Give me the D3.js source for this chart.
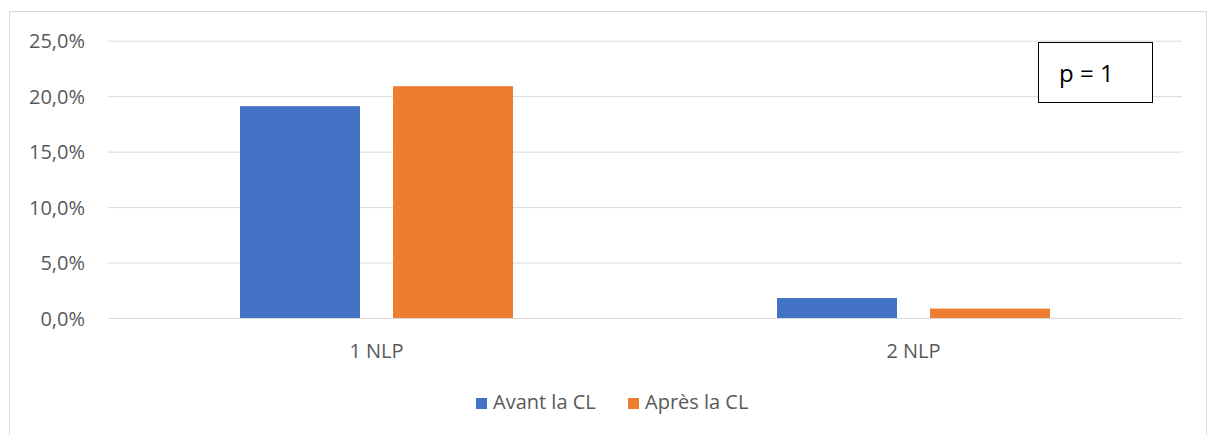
<!DOCTYPE html>
<html>
<head>
<meta charset="utf-8">
<script src="https://cdn.jsdelivr.net/npm/d3@7"></script>
<style>
  body { margin: 0; background: #fff; }
  text { font-family: "Open Sans", sans-serif; }
</style>
</head>
<body>
<script>
// Data
var categories = ["1 NLP", "2 NLP"];
var series = ["Avant la CL", "Après la CL"];
var avant = [19.1, 1.8];
var apres = [20.9, 0.85];
var yTicks = [0, 5, 10, 15, 20, 25];
var colors = ["#4472C4", "#ED7D31"];

var width = 1208, height = 435;

var svg = d3.select("body").append("svg")
    .attr("width", width)
    .attr("height", height);

// chart border
svg.append("rect")
    .attr("x", 9.5).attr("y", 11.5)
    .attr("width", 1197).attr("height", 440)
    .attr("fill", "#fff")
    .attr("stroke", "#d9d9d9");

var plotLeft = 108, plotRight = 1182, plotTop = 40.7, plotBottom = 318;

var y = d3.scaleLinear().domain([0, 25]).range([plotBottom, plotTop]);
var x0 = d3.scaleBand().domain(categories).range([plotLeft, plotRight]).padding(0);
var x1 = d3.scaleBand().domain(series).range([0, x0.bandwidth()])
    .paddingInner(0.2157).paddingOuter(0.863);

// gridlines + y labels
var yAxis = d3.axisLeft(y).tickValues(yTicks)
    .tickSize(-(plotRight - plotLeft))
    .tickFormat(function (d) { return d.toFixed(1).replace(".", ",") + "%"; });
var gy = svg.append("g")
    .attr("transform", "translate(" + plotLeft + ",0)")
    .call(yAxis);
gy.select(".domain").remove();
gy.selectAll(".tick line").attr("stroke", "#d9d9d9").attr("stroke-width", 1);
gy.selectAll(".tick text")
    .attr("x", -23)
    .attr("dy", "0.36em")
    .attr("fill", "#595959")
    .attr("font-size", "20px");

// bars
var rows = categories.map(function (c, i) {
    return { cat: c, values: [avant[i], apres[i]] };
});
var groups = svg.selectAll(".grp").data(rows).enter().append("g")
    .attr("class", "grp")
    .attr("transform", function (d) { return "translate(" + x0(d.cat) + ",0)"; });
groups.selectAll("rect")
    .data(function (d) { return d.values.map(function (v, j) { return { s: series[j], v: v, j: j }; }); })
    .enter().append("rect")
    .attr("x", function (d) { return x1(d.s); })
    .attr("y", function (d) { return y(d.v); })
    .attr("width", x1.bandwidth())
    .attr("height", function (d) { return plotBottom - y(d.v); })
    .attr("fill", function (d) { return colors[d.j]; });

// x axis labels
var xAxis = d3.axisBottom(x0).tickSize(0).tickPadding(0);
var gx = svg.append("g")
    .attr("transform", "translate(0," + plotBottom + ")")
    .call(xAxis);
gx.select(".domain").remove();
gx.selectAll(".tick text")
    .attr("y", 40)
    .attr("dy", 0)
    .attr("fill", "#595959")
    .attr("font-size", "20px");

// legend
var legendX = [476, 628];
var leg = svg.selectAll(".leg").data(series).enter().append("g")
    .attr("class", "leg")
    .attr("transform", function (d, i) { return "translate(" + legendX[i] + ",398)"; });
leg.append("rect")
    .attr("width", 11).attr("height", 11)
    .attr("fill", function (d, i) { return colors[i]; });
leg.append("text")
    .attr("x", 17).attr("y", 11)
    .attr("fill", "#595959")
    .attr("font-size", "20px")
    .text(function (d) { return d; });

// p-value box
svg.append("rect")
    .attr("x", 1038.5).attr("y", 42.5)
    .attr("width", 114).attr("height", 60)
    .attr("fill", "#fff")
    .attr("stroke", "#000");
svg.append("text")
    .attr("x", 1059).attr("y", 82)
    .attr("font-size", "24px")
    .attr("fill", "#000")
    .text("p = 1");
</script>
</body>
</html>
